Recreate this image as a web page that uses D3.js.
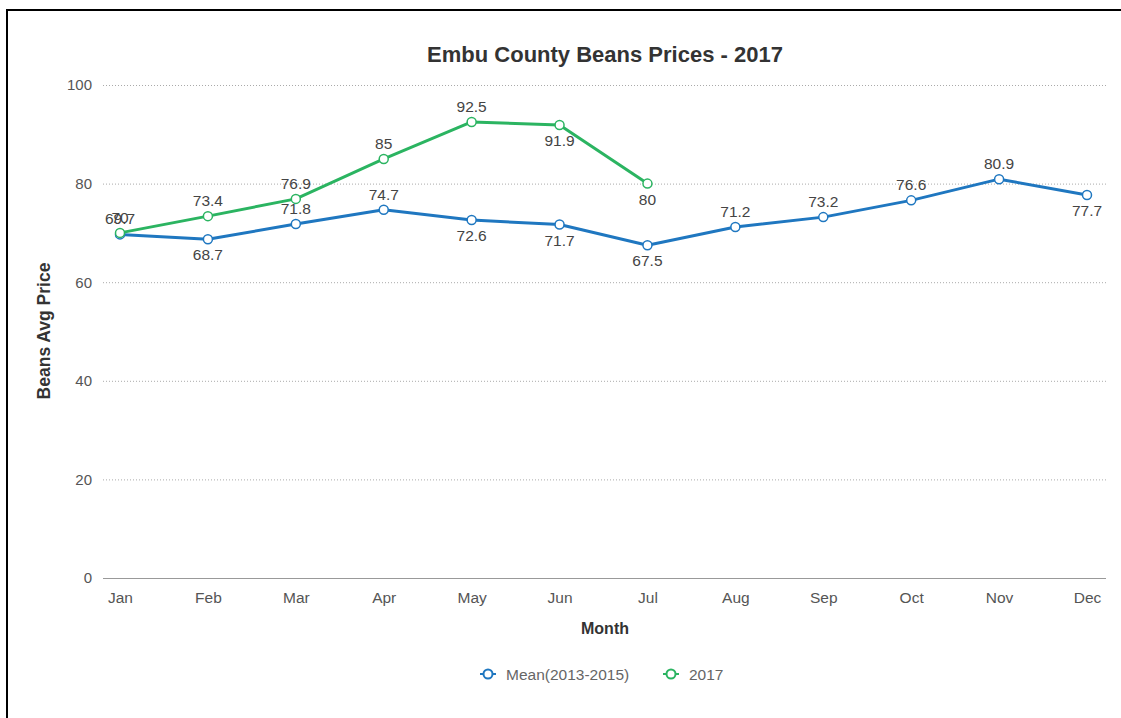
<!DOCTYPE html>
<html>
<head>
<meta charset="utf-8">
<script src="https://cdn.jsdelivr.net/npm/d3@7"></script>
<style>
  html, body { margin: 0; padding: 0; background: #fff; }
  svg { display: block; font-family: "Liberation Sans", Arial, sans-serif; }
</style>
</head>
<body>
<svg id="chart" width="1121" height="718"></svg>
<script>
const months = ["Jan","Feb","Mar","Apr","May","Jun","Jul","Aug","Sep","Oct","Nov","Dec"];
const meanValues = [69.7, 68.7, 71.8, 74.7, 72.6, 71.7, 67.5, 71.2, 73.2, 76.6, 80.9, 77.7];
const meanLabelPos = ["up","down","up","up","down","down","down","up","up","up","up","down"];
const values2017 = [70, 73.4, 76.9, 85, 92.5, 91.9, 80];
const label2017Pos = ["up","up","up","up","up","down","down"];
const yTicks = [0, 20, 40, 60, 80, 100];
const seriesNames = ["Mean(2013-2015)", "2017"];
const colors = ["#1f77c0", "#2bb461"];

const svg = d3.select("#chart");

// frame (top and left borders)
svg.append("line").attr("x1", 6).attr("x2", 1121).attr("y1", 10).attr("y2", 10)
  .attr("stroke", "#000").attr("stroke-width", 2);
svg.append("line").attr("x1", 7).attr("x2", 7).attr("y1", 9).attr("y2", 718)
  .attr("stroke", "#000").attr("stroke-width", 2);

const plotLeft = 103, plotRight = 1106, plotTop = 85, plotBottom = 578;

const x = d3.scalePoint().domain(months).range([120, 1087]);
const y = d3.scaleLinear().domain([0, 100]).range([plotBottom, plotTop]);

// gridlines
svg.append("g").selectAll("line").data(yTicks.filter(d => d > 0)).join("line")
  .attr("x1", plotLeft).attr("x2", plotRight)
  .attr("y1", d => y(d) + 0.5).attr("y2", d => y(d) + 0.5)
  .attr("stroke", "#aaa").attr("stroke-width", 1).attr("stroke-dasharray", "1,2");

// zero axis line
svg.append("line").attr("x1", plotLeft).attr("x2", plotRight)
  .attr("y1", y(0) + 0.5).attr("y2", y(0) + 0.5).attr("stroke", "#999").attr("stroke-width", 1);

// y axis tick labels
const yAxis = d3.axisLeft(y).tickValues(yTicks).tickSize(0).tickPadding(0);
const gy = svg.append("g").attr("transform", `translate(92,0)`).call(yAxis);
gy.select(".domain").remove();
gy.selectAll("text").attr("font-size", 15).attr("fill", "#555")
  .attr("font-family", "'Liberation Sans', Arial, sans-serif");

// x axis tick labels
const xAxis = d3.axisBottom(x).tickSize(0).tickPadding(0);
const gx = svg.append("g").attr("transform", `translate(0,${plotBottom + 14})`).call(xAxis);
gx.select(".domain").remove();
gx.selectAll("text").attr("font-size", 15.5).attr("fill", "#555")
  .attr("font-family", "'Liberation Sans', Arial, sans-serif");

// title
svg.append("text").attr("x", 605).attr("y", 62).attr("text-anchor", "middle")
  .attr("font-size", 22).attr("font-weight", "bold").attr("fill", "#333")
  .text("Embu County Beans Prices - 2017");

// axis titles
svg.append("text").attr("x", 605).attr("y", 634).attr("text-anchor", "middle")
  .attr("font-size", 16).attr("font-weight", "bold").attr("fill", "#333").text("Month");
svg.append("text").attr("transform", "translate(50,331) rotate(-90)")
  .attr("text-anchor", "middle").attr("font-size", 17.5).attr("font-weight", "bold")
  .attr("fill", "#333").text("Beans Avg Price");

const line = d3.line().x(d => x(d.m)).y(d => y(d.v));

const series = [
  { name: seriesNames[0], color: colors[0],
    data: meanValues.map((v, i) => ({ m: months[i], v, pos: meanLabelPos[i] })) },
  { name: seriesNames[1], color: colors[1],
    data: values2017.map((v, i) => ({ m: months[i], v, pos: label2017Pos[i] })) }
];

series.forEach(s => {
  const g = svg.append("g");
  g.append("path").datum(s.data).attr("d", line).attr("fill", "none")
    .attr("stroke", s.color).attr("stroke-width", 3).attr("stroke-linejoin", "round");
  g.selectAll("circle").data(s.data).join("circle")
    .attr("cx", d => x(d.m)).attr("cy", d => y(d.v)).attr("r", 4.5)
    .attr("fill", "#fff").attr("stroke", s.color).attr("stroke-width", 1.5);
  g.selectAll("text").data(s.data).join("text")
    .attr("x", d => x(d.m))
    .attr("y", d => y(d.v) + (d.pos === "up" ? -10 : 21))
    .attr("text-anchor", "middle").attr("font-size", 15.5).attr("fill", "#444")
    .text(d => d.v);
});

// legend
const legendItems = [
  { name: seriesNames[0], color: colors[0], x: 488 },
  { name: seriesNames[1], color: colors[1], x: 671 }
];
const lg = svg.append("g");
legendItems.forEach(it => {
  lg.append("line").attr("x1", it.x - 8).attr("x2", it.x + 8).attr("y1", 674).attr("y2", 674)
    .attr("stroke", it.color).attr("stroke-width", 2);
  lg.append("circle").attr("cx", it.x).attr("cy", 674).attr("r", 4.5)
    .attr("fill", "#fff").attr("stroke", it.color).attr("stroke-width", 2);
  lg.append("text").attr("x", it.x + 18).attr("y", 679.5).attr("font-size", 15.5)
    .attr("fill", "#666").text(it.name);
});
</script>
</body>
</html>
